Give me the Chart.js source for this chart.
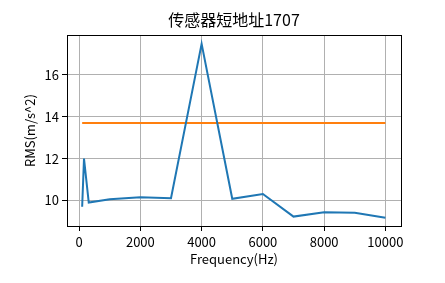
<!DOCTYPE html>
<html><head><meta charset="utf-8">
<script src="https://cdn.jsdelivr.net/npm/chart.js@4"></script>
<style>html,body{margin:0;padding:0;background:#fff}#wrap{width:445px;height:283px}</style>
</head><body><div id="wrap"><canvas id="c" width="445" height="283"></canvas></div>
<script>
const frequencies = [100, 160, 315, 1000, 2000, 3000, 4000, 5000, 6000, 7000, 8000, 9000, 10000];
const rmsValues = [9.70, 12.0, 9.90, 10.06, 10.16, 10.11, 17.49, 10.08, 10.31, 9.23, 9.44, 9.41, 9.17];
const thresholdX = [100, 10000];
const thresholdY = [13.70, 13.70];
const xTicks = [0, 2000, 4000, 6000, 8000, 10000];
const yTicks = [10, 12, 14, 16];
const FONT = '"Noto Sans CJK SC", "DejaVu Sans", sans-serif';

const frame = {
  id: 'frame',
  afterDraw(chart) {
    const a = chart.chartArea, ctx = chart.ctx;
    ctx.save();
    ctx.strokeStyle = '#000';
    ctx.lineWidth = 1;
    ctx.strokeRect(Math.round(a.left) + 0.5, Math.round(a.top) + 0.5, Math.round(a.right - a.left), Math.round(a.bottom - a.top));
    ctx.restore();
  }
};

new Chart(document.getElementById('c'), {
  type: 'line',
  data: {
    datasets: [
      { data: frequencies.map((f, i) => ({x: f, y: rmsValues[i]})), borderColor: '#1f77b4', borderWidth: 2, pointRadius: 0, tension: 0, fill: false },
      { data: thresholdX.map((f, i) => ({x: f, y: thresholdY[i]})), borderColor: '#ff7f0e', borderWidth: 2, pointRadius: 0, tension: 0, fill: false }
    ]
  },
  options: {
    responsive: false,
    animation: false,
    layout: { padding: { left: 22, right: 44, top: 0, bottom: 16 } },
    plugins: {
      legend: { display: false },
      tooltip: { enabled: false },
      title: { display: true, text: '传感器短地址1707', color: '#000', fullSize: false,
        font: { family: FONT, size: 16, weight: 'normal' }, padding: { top: 10, bottom: 6 } }
    },
    scales: {
      x: {
        type: 'linear', min: -395, max: 10509,
        afterBuildTicks: s => { s.ticks = xTicks.map(v => ({value: v})); },
        afterFit: s => { s.height = 41; },
        grid: { color: '#b0b0b0', lineWidth: 1, drawTicks: true, tickLength: 5, tickColor: '#000' },
        border: { display: true, color: '#000' },
        ticks: { color: '#000', font: { family: FONT, size: 13 }, padding: 3, maxRotation: 0, autoSkip: false, callback: v => String(v) },
        title: { display: true, text: 'Frequency(Hz)', color: '#000', font: { family: FONT, size: 13 }, padding: { top: 2, bottom: 0 } }
      },
      y: {
        type: 'linear', min: 8.78, max: 17.9,
        afterBuildTicks: s => { s.ticks = yTicks.map(v => ({value: v})); },
        afterFit: s => { s.width = 45; },
        grid: { color: '#b0b0b0', lineWidth: 1, drawTicks: true, tickLength: 5, tickColor: '#000' },
        border: { display: true, color: '#000' },
        ticks: { color: '#000', font: { family: FONT, size: 13 }, padding: 3, autoSkip: false, callback: v => String(v) },
        title: { display: true, text: 'RMS(m/s^2)', color: '#000', font: { family: FONT, size: 13 }, padding: { top: 0, bottom: 2 } }
      }
    }
  },
  plugins: [frame]
});
</script></body></html>
